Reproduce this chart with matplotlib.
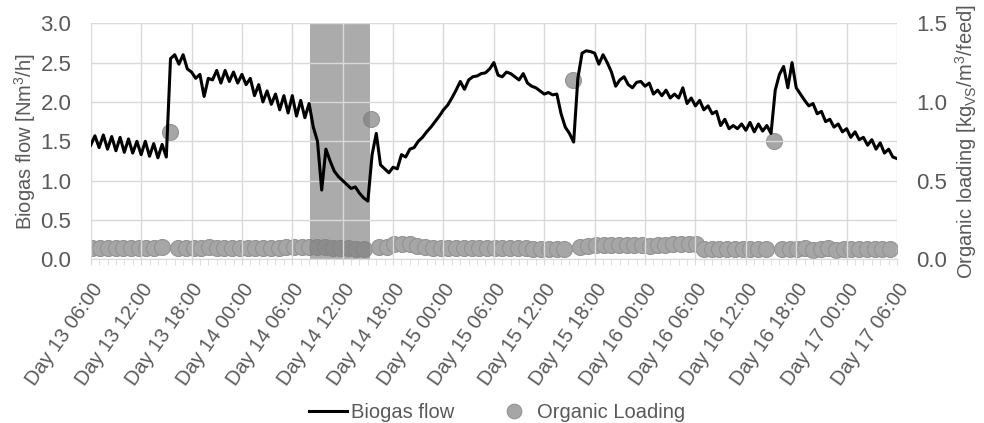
import numpy as np
import matplotlib
matplotlib.use("Agg")
import matplotlib.pyplot as plt

plt.rcParams['font.family'] = ['Liberation Sans', 'DejaVu Sans']
plt.rcParams['mathtext.default'] = 'regular'

# biogas flow, one reading every 30 min starting Day 13 06:00
biogas = [1.45, 1.57, 1.42, 1.58, 1.40, 1.56, 1.38, 1.55, 1.36, 1.53,
          1.35, 1.50, 1.33, 1.50, 1.31, 1.47, 1.29, 1.46, 1.30, 2.55,
          2.60, 2.48, 2.60, 2.42, 2.38, 2.30, 2.35, 2.07, 2.30, 2.28,
          2.40, 2.24, 2.40, 2.26, 2.38, 2.24, 2.35, 2.22, 2.30, 2.08,
          2.22, 2.00, 2.14, 1.97, 2.10, 1.90, 2.08, 1.86, 2.08, 1.82,
          2.02, 1.80, 1.98, 1.68, 1.50, 0.88, 1.40, 1.25, 1.12, 1.05,
          1.00, 0.95, 0.90, 0.92, 0.84, 0.78, 0.74, 1.33, 1.60, 1.20,
          1.15, 1.10, 1.17, 1.15, 1.33, 1.30, 1.40, 1.42, 1.50, 1.55,
          1.62, 1.68, 1.75, 1.82, 1.90, 1.96, 2.05, 2.15, 2.26, 2.16,
          2.28, 2.32, 2.33, 2.36, 2.37, 2.42, 2.50, 2.34, 2.32, 2.38,
          2.36, 2.32, 2.28, 2.36, 2.24, 2.20, 2.18, 2.14, 2.10, 2.12,
          2.09, 2.10, 1.85, 1.68, 1.60, 1.49, 2.30, 2.62, 2.65, 2.64,
          2.62, 2.48, 2.60, 2.50, 2.38, 2.20, 2.28, 2.32, 2.22, 2.18,
          2.25, 2.26, 2.20, 2.24, 2.10, 2.15, 2.08, 2.15, 2.05, 2.10,
          2.05, 2.18, 1.98, 2.05, 1.95, 2.02, 1.90, 1.95, 1.85, 1.88,
          1.70, 1.78, 1.66, 1.70, 1.66, 1.72, 1.64, 1.74, 1.62, 1.72,
          1.63, 1.70, 1.60, 2.15, 2.35, 2.45, 2.18, 2.50, 2.18, 2.10,
          2.02, 1.95, 1.98, 1.85, 1.88, 1.75, 1.78, 1.68, 1.72, 1.62,
          1.66, 1.55, 1.62, 1.52, 1.55, 1.45, 1.52, 1.40, 1.48, 1.35,
          1.40, 1.30, 1.28]
biogas_hours = np.arange(len(biogas)) * 0.5

# organic loading: daily feed pulses (hours after Day 13 06:00)
feed_hours = [9.4, 33.4, 57.4, 81.4]
feed_load = [0.81, 0.89, 1.14, 0.75]

# background loading between the feeds, one group per gap
gap_start = [0.2, 10.4, 34.3, 58.3, 82.3]
load_g1 = [0.07, 0.07, 0.07, 0.07, 0.07, 0.07, 0.07, 0.07, 0.07, 0.08]
load_g2 = [0.07, 0.07, 0.07, 0.07, 0.08, 0.07, 0.07, 0.07, 0.07, 0.07,
           0.07, 0.07, 0.07, 0.07, 0.075, 0.075, 0.08, 0.08, 0.075, 0.075,
           0.07, 0.07, 0.07, 0.065, 0.065]
load_g3 = [0.075, 0.08, 0.095, 0.10, 0.095, 0.085, 0.075, 0.07, 0.07, 0.07,
           0.07, 0.07, 0.07, 0.07, 0.07, 0.07, 0.07, 0.07, 0.07, 0.07,
           0.065, 0.065, 0.065, 0.065, 0.065]
load_g4 = [0.08, 0.085, 0.09, 0.09, 0.09, 0.09, 0.09, 0.09, 0.09, 0.085,
           0.09, 0.09, 0.095, 0.10, 0.10, 0.10, 0.065, 0.065, 0.065, 0.065,
           0.065, 0.065, 0.065, 0.065, 0.065]
load_g5 = [0.065, 0.065, 0.065, 0.07, 0.06, 0.065, 0.07, 0.06, 0.065, 0.065,
           0.065, 0.065, 0.065, 0.065, 0.065]
load_groups = [load_g1, load_g2, load_g3, load_g4, load_g5]

tick_labels = ["Day 13 06:00", "Day 13 12:00", "Day 13 18:00", "Day 14 00:00",
               "Day 14 06:00", "Day 14 12:00", "Day 14 18:00", "Day 15 00:00",
               "Day 15 06:00", "Day 15 12:00", "Day 15 18:00", "Day 16 00:00",
               "Day 16 06:00", "Day 16 12:00", "Day 16 18:00", "Day 17 00:00",
               "Day 17 06:00"]
shade = (26.1, 33.3)

txt = '#595959'
grid = '#d9d9d9'
dot = '#a6a6a6'
edge = '#939393'

fig = plt.figure(figsize=(9.84, 4.23), dpi=100)
ax = fig.add_axes([0.0922, 0.387, 0.8194, 0.558])
ax2 = ax.twinx()

ax.set_zorder(ax2.get_zorder() + 1)
ax.patch.set_visible(False)

for start, vals in zip(gap_start, load_groups):
    hrs = start + np.arange(len(vals)) * 0.92
    ax2.plot(hrs, vals, 'o', ms=11.5, color=dot, mec=edge, mew=0.8)
ax2.plot(feed_hours, feed_load, 'o', ms=11.5, color=dot, mec=edge, mew=0.8)
ax2.axvspan(shade[0], shade[1], color='#7f7f7f', alpha=0.65, lw=0, zorder=5)

ax.plot(biogas_hours, biogas, color='black', lw=2.2)

ax.set_xlim(0, 96)
ax.set_ylim(0, 3)
ax2.set_ylim(0, 1.5)
ax.set_yticks(np.arange(0, 3.01, 0.5))
ax2.set_yticks(np.arange(0, 1.51, 0.5))
ax.set_xticks(np.arange(0, 97, 6))
ax.set_xticks(np.arange(0, 97, 1), minor=True)
ax.set_xticklabels(tick_labels, rotation=55, ha='right', rotation_mode='anchor')
ax.grid(True, color=grid, lw=1)
ax.set_axisbelow(True)
ax2.grid(False)

for a in (ax, ax2):
    for s in a.spines.values():
        s.set_visible(False)
    a.tick_params(axis='y', length=0, labelsize=16, labelcolor=txt, pad=14)
ax.spines['bottom'].set_visible(True)
ax.spines['bottom'].set_color(grid)
ax.tick_params(axis='x', which='both', length=4, color=grid, labelsize=14.5,
               labelcolor=txt, pad=11)
ax.yaxis.set_major_formatter(matplotlib.ticker.FormatStrFormatter('%.1f'))
ax2.yaxis.set_major_formatter(matplotlib.ticker.FormatStrFormatter('%.1f'))

ax.set_ylabel('Biogas flow [Nm$^3$/h]', fontsize=14.5, color=txt, labelpad=2)
ax2.set_ylabel('Organic loading [kg$_{VS}$/m$^3$/feed]', fontsize=14.5, color=txt, labelpad=4)

h1, = ax.plot([], [], color='black', lw=2.2)
h2, = ax.plot([], [], 'o', ms=10.5, color=dot, mec=edge, mew=0.8)
fig.legend([h1, h2], ['Biogas flow', 'Organic Loading'], loc='lower center',
           bbox_to_anchor=(0.505, -0.04), ncol=2, frameon=False, fontsize=14.5,
           labelcolor=txt, handlelength=1.9, handletextpad=0.2, columnspacing=2.0)

fig.savefig('out.png', dpi=100)
